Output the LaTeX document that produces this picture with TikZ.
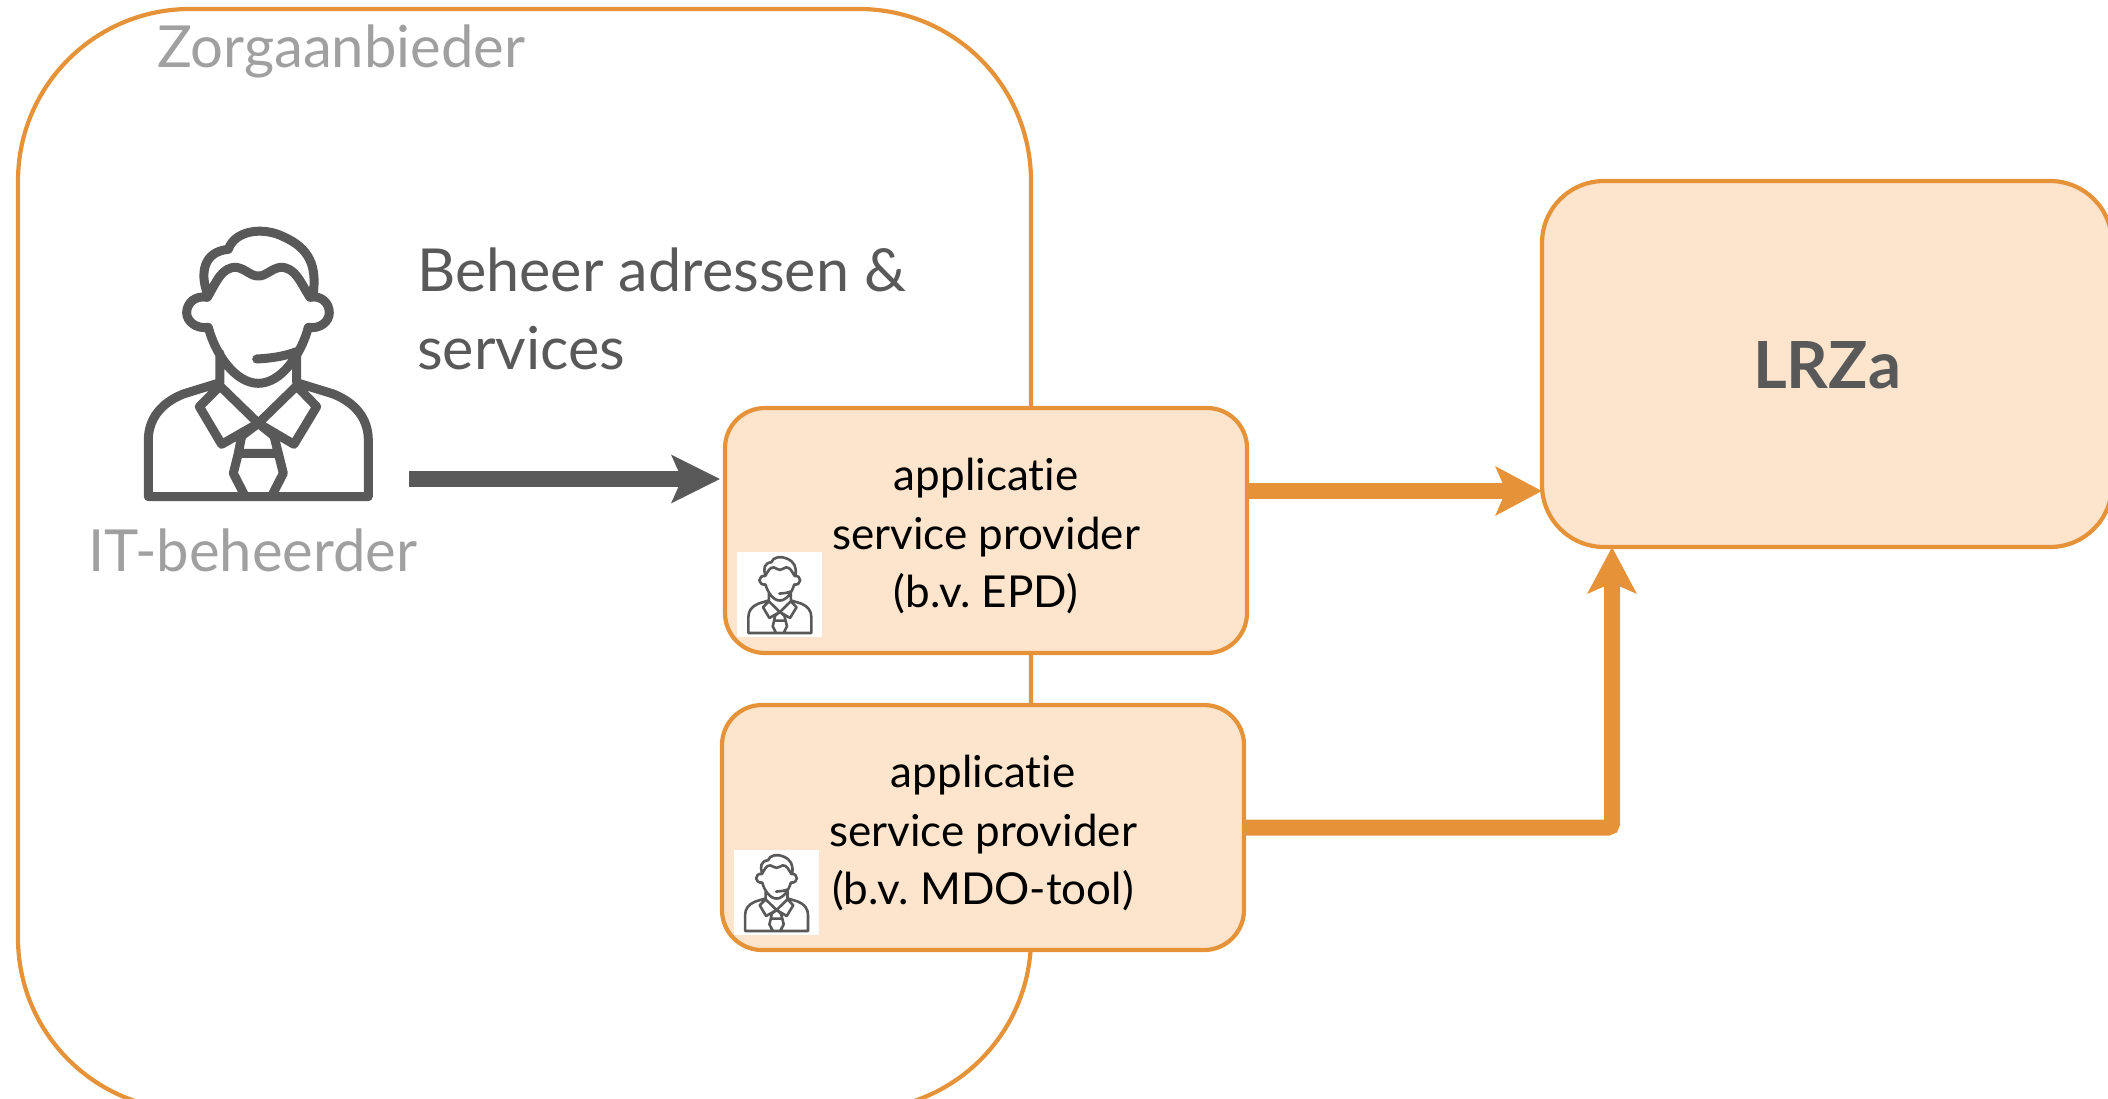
\documentclass[tikz,border=0pt]{standalone}
\usepackage{fontspec}
\setmainfont[Ligatures=NoCommon]{Lato}
\usetikzlibrary{arrows.meta,calc}
\definecolor{orangeline}{HTML}{E59239}
\definecolor{orangefill}{HTML}{FCE4CD}
\definecolor{darkgrey}{HTML}{595959}
\definecolor{midgrey}{HTML}{A0A0A0}
\tikzset{
  holder/.style={draw=orangeline,line width=4.2pt,rounded corners=172pt,inner sep=0pt,outer sep=0pt,minimum width=1013pt,minimum height=1101pt},
  appbox/.style={draw=orangeline,fill=orangefill,line width=4.2pt,rounded corners=40pt,inner sep=0pt,outer sep=0pt,minimum width=522pt,minimum height=245pt,align=center,text=black,font=\fontsize{44}{58.5}\selectfont},
  lrzbox/.style={draw=orangeline,fill=orangefill,line width=4.2pt,rounded corners=62pt,inner sep=0pt,outer sep=0pt,minimum width=570pt,minimum height=366pt,text=darkgrey,font=\fontsize{65}{70}\selectfont\bfseries},
  whitepad/.style={fill=white,inner sep=0pt,outer sep=0pt,minimum width=85pt,minimum height=85pt},
  greylabel/.style={text=midgrey,inner sep=0pt,font=\fontsize{58}{66}\selectfont},
  darklabel/.style={text=darkgrey,inner sep=0pt,align=left,font=\fontsize{59.3}{78}\selectfont},
  orangearrow/.style={draw=orangeline,line width=16pt,-{Stealth[length=46pt 0,width=48pt 0,inset=10pt 0]},rounded corners=4pt},
  greyarrow/.style={draw=darkgrey,line width=15.5pt,-{Stealth[length=48pt 0,width=47pt 0,inset=10pt 0]}},
  iconline/.style={draw=darkgrey,line join=round,line cap=round}
}
\newcommand{\boxlines}[1]{\raisebox{-12pt}[0pt][0pt]{\parbox{522pt}{\centering\frenchspacing #1}}}
\newcommand{\personicon}{%
  % hair
  (262,250) .. controls (240,190) and (250,125) .. (325,118)
  .. controls (345,60) and (430,50) .. (490,80)
  .. controls (570,115) and (590,170) .. (580,250)
  % hairline
  (262,262) .. controls (290,215) and (305,170) .. (350,172)
  .. controls (380,178) and (390,198) .. (415,198)
  .. controls (440,198) and (450,178) .. (480,172)
  .. controls (525,170) and (540,215) .. (570,262)
  % ears and face
  (262,262) .. controls (225,255) and (200,280) .. (200,308)
  .. controls (200,335) and (230,358) .. (265,352)
  .. controls (285,430) and (345,520) .. (415,520)
  .. controls (485,520) and (545,430) .. (565,352)
  .. controls (600,358) and (628,335) .. (628,308)
  .. controls (628,280) and (605,255) .. (570,262)
  % headset
  (410,447) .. controls (450,445) and (490,440) .. (530,425)
  % neck
  (300,430) -- (300,518) (530,430) -- (530,518)
  % shoulders and base
  (300,518) -- (190,552) .. controls (120,580) and (85,630) .. (85,690)
  -- (85,860) -- (745,860) -- (745,690)
  .. controls (745,630) and (710,580) .. (640,552) -- (530,518)
  % collar
  (300,528) -- (415,640) -- (305,703) -- (238,590) -- cycle
  (530,528) -- (415,640) -- (522,703) -- (590,590) -- cycle
  % tie
  (415,640) -- (365,678) -- (355,730) -- (475,730) -- (462,678) -- cycle
  (355,730) -- (340,790) -- (375,858)
  (475,730) -- (490,790) -- (455,858)
}
\begin{document}
\begin{tikzpicture}[x=1pt,y=-1pt]
\useasboundingbox (0,0) rectangle (2108,1098);
\clip (0,0) rectangle (2108,1098);
\node[holder] (holder) at (524.5,559.5) {};
\node[appbox] (epd) at (986,530.5) {\boxlines{applicatie\\service provider\\(b.v. EPD)}};
\node[appbox] (mdo) at (983,827.5) {\boxlines{applicatie\\service provider\\(b.v. MDO-tool)}};
\node[lrzbox] (lrza) at (1827,364) {\raisebox{-24.5pt}[0pt][0pt]{LRZa}};
\node[whitepad] (padone) at (779.5,594.5) {};
\node[whitepad] (padtwo) at (776,892.5) {};
\begin{scope}[shift={(120,210)},scale=0.3333]
  \draw[iconline,line width=9pt] \personicon;
\end{scope}
\begin{scope}[shift={(740.3,551)},scale=0.0953]
  \draw[iconline,line width=2.6pt] \personicon;
\end{scope}
\begin{scope}[shift={(737,849)},scale=0.0953]
  \draw[iconline,line width=2.6pt] \personicon;
\end{scope}
\node[greylabel,anchor=west] (zorg) at (157,51) {Zorgaanbieder};
\node[greylabel,anchor=west] (itb) at (88,550) {IT-beheerder};
\node[darklabel,anchor=west] (beheer) at (417,309) {Beheer adressen \&\\services};
\coordinate (greystart) at (409,479);
\draw[greyarrow,shorten >=5pt] (greystart) -- ([yshift=51.5pt]epd.west);
\draw[orangearrow] ([yshift=39.5pt]epd.east) -- ([yshift=-127pt]lrza.west);
\draw[orangearrow] (mdo.east) -| ([xshift=-215pt]lrza.south);
\end{tikzpicture}
\end{document}
